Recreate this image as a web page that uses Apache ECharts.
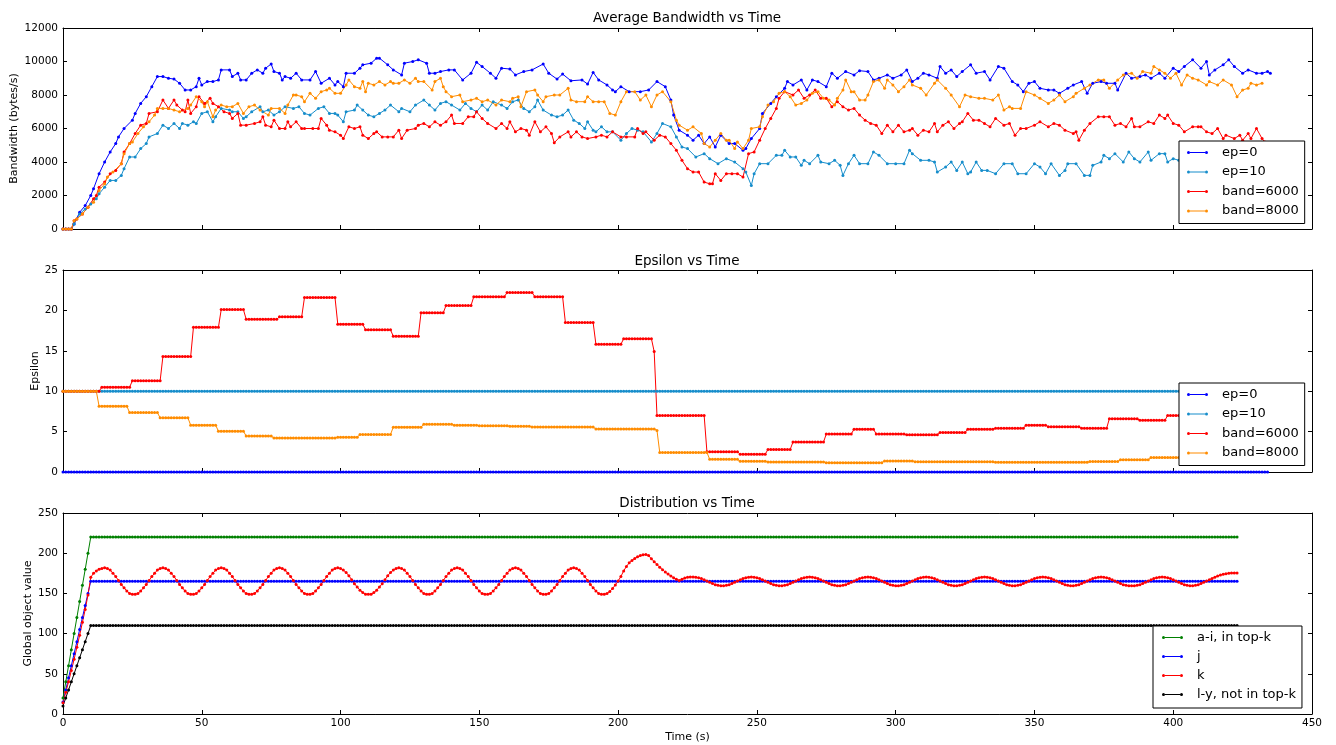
<!DOCTYPE html>
<html>
<head>
<meta charset="utf-8">
<title>Bandwidth / Epsilon / Distribution vs Time</title>
<script src="https://cdn.jsdelivr.net/npm/echarts@6.0.0/dist/echarts.min.js"></script>
<style>
html, body { margin: 0; padding: 0; background: #fff; }
#main { width: 1336px; height: 745px; }
</style>
</head>
<body>
<div id="main"></div>
<script>
// ---- names / colours ----
var bandNames = ['ep=0', 'ep=10', 'band=6000', 'band=8000'];
var distNames = ['a-i, in top-k', 'j', 'k', 'l-y, not in top-k'];
var bandColors = ['#0000ff', '#168dcb', '#ff0000', '#ff8c00'];
var distColors = ['#008000', '#0000ff', '#ff0000', '#000000'];

// ---- Average Bandwidth vs Time : [time (s), bytes/s] ----
var bwEp0 = [[0,0],[1,0],[2,0],[3,0],[4,300],[6,1000],[8,1400],[10,2000],[11,2400],[13,3300],[15,4000],[17,4600],[19,5100],[20,5500],[22,6000],[25,6500],[26,6900],[28,7500],[30,7900],[32,8500],[34,9100],[36,9100],[38,9000],[40,8950],[42,8700],[44,8300],[46,8300],[48,8500],[49,9000],[50,8600],[52,8800],[54,8800],[56,8900],[57,9500],[60,9500],[61,9100],[63,9300],[64,8900],[66,8900],[68,9300],[70,9500],[72,9300],[73,9600],[75,9850],[76,9400],[78,9300],[79,8900],[80,9100],[82,9000],[84,9300],[86,8900],[89,8900],[91,9400],[93,8700],[96,9000],[98,8600],[99,8800],[101,8500],[102,9300],[105,9300],[107,9600],[108,9800],[111,9900],[113,10200],[114,10200],[117,9800],[119,9500],[122,9200],[123,9900],[126,10000],[128,10100],[131,9900],[132,9300],[134,9300],[136,9400],[139,9500],[141,9500],[144,8900],[147,9300],[149,9950],[151,9700],[154,9300],[156,9000],[158,9600],[161,9550],[163,9200],[166,9400],[169,9500],[173,9850],[175,9300],[178,8950],[180,9250],[183,8850],[187,8900],[189,8650],[191,9350],[193,8900],[196,8600],[198,8300],[199,8200],[201,8500],[204,8200],[208,8200],[211,8300],[214,8800],[217,8500],[219,7700],[220,6800],[222,5900],[225,5600],[227,5300],[229,5600],[231,5100],[233,5500],[235,4900],[237,5600],[240,5100],[242,5100],[245,4700],[246,4800],[248,5400],[251,6000],[252,6900],[255,7500],[257,7900],[260,8400],[261,8800],[263,8600],[266,8900],[268,8300],[270,8900],[272,8800],[275,8500],[277,9300],[279,9000],[282,9400],[285,9200],[287,9450],[290,9400],[292,8900],[294,9000],[297,9200],[299,9000],[302,9200],[304,9500],[306,8800],[308,9000],[310,9300],[312,9200],[315,9000],[316,9700],[318,9300],[320,9500],[322,9100],[324,9400],[327,9800],[329,9300],[332,9400],[334,8900],[337,9700],[339,9600],[342,8800],[344,8600],[346,8200],[348,8700],[350,8800],[352,8400],[355,8300],[357,8300],[359,8100],[362,8400],[364,8600],[367,8800],[369,8100],[371,8700],[374,8800],[376,8700],[379,8700],[380,8300],[383,9300],[385,9000],[388,9100],[390,9200],[392,9000],[395,9300],[397,9000],[400,9600],[402,9400],[404,9700],[407,10100],[410,9600],[412,10000],[413,9200],[415,9500],[418,9800],[420,10100],[422,9700],[425,9300],[427,9500],[430,9300],[432,9300],[434,9400],[435,9300]];

var bwEp10 = [[0,0],[1,0],[2,0],[3,0],[4,300],[6,900],[8,1200],[10,1500],[12,1800],[13,2100],[15,2500],[17,2900],[19,2900],[21,3200],[22,3600],[24,4300],[26,4300],[28,4800],[30,5100],[31,5500],[34,5700],[36,6200],[38,6000],[40,6300],[42,6000],[43,6300],[45,6200],[47,6400],[48,6300],[50,6900],[52,7000],[54,6400],[55,6700],[57,7200],[60,7100],[61,7000],[63,7000],[65,6600],[66,6700],[68,7000],[71,7300],[72,7000],[74,7100],[76,6800],[78,7000],[80,7300],[83,7200],[85,7300],[87,6900],[89,6800],[92,7200],[94,7300],[96,6900],[98,6900],[99,6800],[101,6400],[102,7000],[105,7100],[106,7400],[108,7100],[110,6800],[112,6700],[114,6900],[116,7100],[118,7400],[121,7000],[122,7200],[125,7000],[127,7400],[130,7700],[132,7400],[134,7100],[136,7500],[138,7600],[140,7400],[143,7100],[145,7500],[147,7200],[149,7000],[151,7400],[153,7100],[155,7600],[158,7400],[160,7200],[162,7600],[164,7700],[166,7200],[168,7000],[170,7300],[171,7700],[173,7100],[176,6800],[178,6700],[180,6800],[182,7100],[184,6500],[186,6300],[188,6000],[189,6400],[191,5900],[192,5800],[194,6100],[196,5800],[198,5800],[201,5300],[203,5700],[205,6000],[207,5900],[209,5800],[212,5200],[214,5700],[216,6300],[219,6100],[221,5500],[223,4900],[225,4800],[228,4300],[231,4500],[233,4200],[236,3900],[239,4200],[242,4000],[245,3600],[246,3400],[248,2600],[249,3300],[251,3900],[254,3900],[257,4400],[259,4400],[260,4700],[262,4300],[264,4300],[266,3800],[267,4100],[269,3900],[272,4400],[273,4000],[276,3900],[278,4100],[280,3800],[281,3200],[283,3900],[285,4400],[287,3900],[290,3900],[292,4600],[294,4400],[297,3900],[300,3900],[303,3900],[305,4700],[306,4500],[309,4100],[312,4100],[314,4000],[315,3400],[318,3700],[320,4000],[322,3500],[324,4000],[326,3300],[327,3400],[329,4000],[331,3500],[333,3500],[336,3300],[339,3900],[342,3900],[344,3300],[347,3300],[350,3900],[352,3700],[354,3300],[356,3900],[359,3200],[361,3500],[362,3900],[365,3900],[368,3200],[370,3200],[371,3800],[374,4000],[375,4400],[377,4200],[379,4500],[382,4000],[384,4600],[386,4200],[388,4000],[391,4600],[392,4100],[395,4500],[397,4500],[398,4000],[400,4200],[402,4100],[405,4400],[408,4100],[411,4500],[414,4200],[417,4400],[420,4000],[423,4300],[426,4100],[429,4400],[432,4200]];

var bwBand6000 = [[0,0],[1,0],[2,0],[3,0],[4,500],[5,600],[7,900],[9,1300],[11,1800],[12,2000],[13,2500],[15,2800],[17,3300],[19,3500],[21,3900],[22,4600],[24,5100],[26,5700],[28,6200],[30,6300],[31,6900],[34,7000],[36,7700],[38,7200],[40,7700],[41,7400],[43,7100],[44,7000],[45,7700],[46,6900],[48,7300],[49,7900],[51,7500],[53,7800],[54,7500],[56,7300],[58,7000],[60,6900],[61,6600],[63,6900],[64,6200],[66,6200],[69,6300],[71,6400],[72,6700],[73,6200],[75,6100],[76,6500],[78,6000],[80,6000],[81,6400],[82,6100],[84,6400],[86,6000],[87,6000],[90,6000],[92,6000],[93,6600],[95,6200],[96,5900],[98,5800],[100,5600],[101,5400],[103,6100],[105,6000],[107,6100],[108,5600],[110,5400],[112,5700],[113,5800],[115,5500],[117,5500],[119,5500],[121,5900],[122,5400],[124,5900],[127,6000],[128,6200],[130,6300],[132,6100],[134,6400],[136,6200],[138,6400],[140,6800],[141,6300],[144,6300],[146,6700],[148,6700],[149,7000],[151,6600],[153,6300],[156,6000],[158,6300],[160,6000],[161,6400],[163,5800],[165,6000],[167,5900],[168,5600],[170,6400],[172,5800],[174,6100],[176,5700],[177,5150],[179,5500],[182,5800],[183,5500],[185,5800],[187,5500],[189,5400],[192,5500],[194,5600],[196,5500],[198,5800],[201,5500],[203,5500],[206,5500],[207,6000],[209,5700],[210,5800],[213,5300],[215,5600],[217,5500],[219,5100],[221,4700],[223,4100],[225,3600],[227,3400],[229,3400],[231,2800],[233,2700],[234,2700],[235,3300],[237,2900],[239,3300],[241,3300],[243,3300],[245,3100],[247,4500],[249,4600],[251,5300],[253,6000],[255,6600],[257,7200],[258,7800],[260,8200],[263,8000],[265,8300],[267,7800],[269,8000],[271,8300],[273,7800],[275,7800],[277,7300],[279,7600],[281,7300],[283,7100],[285,7200],[287,6800],[289,6500],[291,6300],[293,6200],[295,5700],[297,6200],[299,5800],[301,6200],[303,5800],[305,5900],[306,6000],[308,5600],[310,5900],[312,5800],[314,6300],[315,5800],[317,6200],[319,6400],[321,6000],[323,6300],[324,6400],[326,6900],[328,6500],[330,6500],[332,6300],[334,6100],[336,6600],[339,6200],[341,6300],[343,5600],[345,6000],[347,6000],[350,6200],[352,6400],[355,6100],[357,6300],[359,6200],[361,5900],[364,5700],[365,5800],[366,5300],[368,5900],[370,6300],[373,6700],[375,6700],[377,6700],[379,6200],[381,6300],[383,6100],[385,6600],[386,6100],[388,6100],[391,6400],[393,6300],[395,6800],[397,6600],[398,6800],[400,6300],[402,6200],[404,5800],[407,6100],[409,6100],[410,6100],[412,5800],[414,5700],[416,6000],[418,5400],[419,5600],[422,5400],[424,5600],[425,5300],[427,5700],[428,5400],[430,6000],[432,5400],[433,5200]];

var bwBand8000 = [[0,0],[1,0],[2,0],[3,0],[4,500],[5,600],[7,900],[9,1300],[11,1600],[13,2300],[15,2700],[16,3100],[18,3400],[21,3900],[22,4500],[24,5100],[25,5200],[27,5700],[29,6100],[31,6400],[33,6800],[34,7200],[36,7200],[38,7200],[40,7100],[42,7000],[45,7200],[46,7400],[48,7900],[50,7600],[51,7300],[52,7600],[54,6700],[55,7100],[57,7400],[59,7300],[61,7300],[63,7500],[65,6900],[67,7300],[69,7400],[71,7100],[74,6800],[75,7200],[78,7200],[80,6900],[81,7400],[83,8000],[84,8000],[86,7900],[87,7600],[89,8100],[91,7800],[93,8200],[95,8300],[96,8400],[98,8100],[100,8100],[102,8600],[103,8900],[105,8500],[107,8400],[108,8800],[109,8200],[110,8700],[112,8600],[114,8800],[116,8600],[118,8800],[119,8700],[121,8700],[123,8900],[125,8700],[127,9000],[128,8800],[130,8800],[133,8300],[134,8800],[136,9000],[137,8500],[138,8200],[140,7900],[143,8000],[144,7600],[147,7700],[149,7800],[151,7600],[153,7700],[156,7400],[158,7700],[161,7600],[162,7800],[164,7900],[165,7300],[167,8200],[170,8300],[171,8000],[173,7600],[174,7900],[177,8000],[179,8000],[182,8400],[183,7700],[185,7600],[188,7600],[189,7900],[191,7600],[193,7600],[195,7600],[197,6900],[199,6800],[201,7600],[203,8200],[206,8200],[208,7700],[210,8000],[212,7300],[214,8000],[216,8200],[219,7600],[221,6500],[222,6200],[225,5900],[227,6100],[230,5700],[231,5100],[233,4900],[235,5300],[237,5700],[239,5300],[240,5300],[242,4800],[243,5200],[245,4800],[247,5300],[248,6000],[251,6100],[252,6700],[254,7400],[256,7600],[258,8100],[260,8200],[262,7900],[264,7400],[266,7500],[268,7700],[270,8100],[272,8200],[274,7800],[276,7700],[278,7400],[279,7800],[281,8300],[282,8900],[284,8200],[285,8200],[287,7700],[289,7700],[290,8000],[292,8800],[294,8900],[296,8400],[297,8900],[299,8600],[301,8200],[303,8500],[305,8900],[306,8600],[309,8400],[311,8000],[314,8700],[315,8900],[318,8400],[320,8000],[323,7300],[325,8000],[327,7900],[330,7800],[332,7800],[335,7700],[337,8000],[339,7100],[341,7300],[342,7200],[345,7200],[347,8200],[350,8000],[352,7800],[355,7500],[357,7700],[359,8000],[361,7600],[364,7900],[365,8100],[368,8400],[370,8600],[373,8900],[375,8900],[377,8400],[380,8900],[382,9200],[385,9300],[387,9000],[389,9400],[392,9300],[393,9700],[395,9500],[397,9300],[399,9000],[401,9300],[403,8600],[405,9200],[407,9000],[409,8900],[412,8600],[413,8800],[416,8600],[418,8900],[421,8600],[423,7900],[425,8300],[427,8400],[428,8700],[430,8600],[432,8700]];

// ---- Epsilon vs Time : steps [from second, epsilon], sampled each second up to end ----
var epsEp0Steps = [[0, 0]];
var epsEp10Steps = [[0, 10]];
var epsBand6000Steps = [[0,10],[14,10.5],[25,11.3],[36,14.3],[47,17.9],[57,20.1],[66,18.9],[78,19.2],[87,21.6],[99,18.3],[109,17.6],[119,16.8],[129,19.7],[138,20.6],[148,21.7],[160,22.2],[170,21.7],[181,18.5],[192,15.8],[202,16.5],[213,14.9],[214,7.0],[232,2.5],[244,2.2],[254,2.8],[263,3.7],[275,4.7],[285,5.3],[293,4.7],[304,4.6],[316,4.9],[326,5.3],[336,5.4],[347,5.8],[355,5.6],[367,5.4],[377,6.6],[388,6.4],[398,7.0]];
var epsBand8000Steps = [[0,10],[13,8.15],[24,7.35],[35,6.7],[46,5.8],[56,5.05],[66,4.45],[76,4.2],[99,4.3],[107,4.65],[119,5.55],[130,5.9],[141,5.8],[150,5.72],[161,5.65],[169,5.57],[192,5.32],[214,5.15],[215,2.42],[233,1.57],[244,1.32],[254,1.24],[275,1.16],[296,1.36],[307,1.28],[336,1.2],[370,1.3],[381,1.52],[392,1.78]];
var epsEnds = [434, 432, 432, 431];

// ---- Distribution vs Time : ramp each second from 0, then hold value until end ----
var aiRamp = [20,40,60,80,100,120,140,160,180,200,220];
var jRamp = [15,30,45,60,75,90,105,120,135,150,165];
var lyRamp = [10,20,30,40,50,60,70,80,90,100,110];
var holdValues = [220, 165, 110];
var distEnd = 423;
// k, one value per second, t = 0..423
var kValues = [14,27,40,54,68,83,98,114,130,148,170,
  175,178,180,181,
  182,181,179,175,171,166,161,157,153,150,149,149,150,153,157,161,166,171,175,179,181,
  182,181,179,175,171,166,161,157,153,150,149,149,150,153,157,161,166,171,175,179,181,
  182,181,179,175,171,166,161,157,153,150,149,149,150,153,157,161,166,171,175,179,181,
  182,181,179,175,171,166,161,157,153,150,149,149,150,153,157,161,166,171,175,179,181,
  182,181,179,176,172,167,162,158,154,151,149,149,149,151,154,158,162,167,172,176,179,181,
  182,181,179,175,171,166,161,157,153,150,149,149,150,153,157,161,166,171,175,179,181,
  182,181,179,175,171,166,161,157,153,150,149,149,150,153,157,161,166,171,175,179,181,
  182,181,179,175,171,166,161,157,153,150,149,149,150,153,157,161,166,171,175,179,181,
  182,181,179,175,171,166,161,157,153,150,149,149,
  150,152.5,156,160.5,165.5,171,178,183.5,188,191,193.5,195.5,197,198,198.5,197,193,189.5,186,182.5,179.5,176.5,174,171.5,169.5,167.5,166,167.5,169,170,170.5,
  170.5,170.2,169.5,168.4,167,165.4,163.8,162.2,160.9,160,159.6,159.6,160,160.9,162.2,163.8,165.4,167,168.4,169.5,170.2,
  170.5,170.2,169.5,168.4,167,165.4,163.8,162.2,160.9,160,159.6,159.6,160,160.9,162.2,163.8,165.4,167,168.4,169.5,170.2,
  170.5,170.2,169.5,168.4,167,165.4,163.8,162.2,160.9,160,159.6,159.6,160,160.9,162.2,163.8,165.4,167,168.4,169.5,170.2,
  170.5,170.2,169.5,168.4,167,165.4,163.8,162.2,160.9,160,159.6,159.6,160,160.9,162.2,163.8,165.4,167,168.4,169.5,170.2,
  170.5,170.2,169.5,168.4,167,165.4,163.8,162.2,160.9,160,159.6,159.6,160,160.9,162.2,163.8,165.4,167,168.4,169.5,170.2,
  170.5,170.2,169.5,168.4,167,165.4,163.8,162.2,160.9,160,159.6,159.6,160,160.9,162.2,163.8,165.4,167,168.4,169.5,170.2,
  170.5,170.2,169.5,168.4,167,165.4,163.8,162.2,160.9,160,159.6,159.6,160,160.9,162.2,163.8,165.4,167,168.4,169.5,170.2,
  170.5,170.2,169.5,168.4,167,165.4,163.8,162.2,160.9,160,159.6,159.6,159.6,160,160.9,162.2,163.8,165.4,167,168.4,169.5,170.2,
  170.5,170.2,169.5,168.4,167,165.4,163.8,162.2,160.9,160,159.6,159.6,
  160,160.9,162.2,163.8,165.4,167,168.6,170.2,171.6,172.8,173.8,174.5,175,175.3,175.5,175.5];

// ---- helpers ----
function stepPoints(steps, end) {
    var pts = [], j = 0;
    for (var t = 0; t <= end; t++) {
        while (j + 1 < steps.length && steps[j + 1][0] <= t) j++;
        pts.push([t, steps[j][1]]);
    }
    return pts;
}
function rampHold(ramp, hold, end) {
    var pts = ramp.map(function (v, i) { return [i, v]; });
    for (var t = ramp.length; t <= end; t++) pts.push([t, hold]);
    return pts;
}

var FONT = 'DejaVu Sans';
var LEGEND_ICON = 'path://M0,1.5a1.5,1.5 0 1,0 3,0a1.5,1.5 0 1,0 -3,0zM18,1.5a1.5,1.5 0 1,0 3,0a1.5,1.5 0 1,0 -3,0zM3,1h15v1h-15z';

var grids = [
    { left: 63, top: 28, width: 1249, height: 201 },
    { left: 63, top: 270, width: 1249, height: 202 },
    { left: 63, top: 513, width: 1249, height: 201 }
];
var yRanges = [[0, 12000, 2000], [0, 25, 5], [0, 250, 50]];
var yNames = ['Bandwidth (bytes/s)', 'Epsilon', 'Global object value'];
var yNameGaps = [43, 22, 29];

var tickStyle = { show: true, inside: true, length: 4, lineStyle: { color: '#000', width: 1 } };
var lineAxis = { show: true, onZero: false, lineStyle: { color: '#000', width: 1 } };
var labelStyle = { color: '#000', fontFamily: FONT, fontSize: 10.5 };

var xAxes = [], yAxes = [];
grids.forEach(function (g, i) {
    var last = i === 2;
    xAxes.push({
        type: 'value', gridIndex: i, position: 'bottom', min: 0, max: 450, interval: 50,
        splitLine: { show: false }, axisLine: lineAxis, axisTick: tickStyle,
        axisLabel: Object.assign({ show: last, margin: 4 }, labelStyle),
        name: last ? 'Time (s)' : '', nameLocation: 'middle', nameGap: 18, nameMoveOverlap: false,
        nameTextStyle: { color: '#000', fontFamily: FONT, fontSize: 11 }
    });
    xAxes.push({
        type: 'value', gridIndex: i, position: 'top', min: 0, max: 450, interval: 50,
        splitLine: { show: false }, axisLine: lineAxis, axisTick: tickStyle,
        axisLabel: { show: false }
    });
    var r = yRanges[i];
    yAxes.push({
        type: 'value', gridIndex: i, position: 'left', min: r[0], max: r[1], interval: r[2],
        splitLine: { show: false }, axisLine: lineAxis, axisTick: tickStyle,
        axisLabel: Object.assign({ margin: 5, formatter: function (v) { return String(v); } }, labelStyle),
        name: yNames[i], nameLocation: 'middle', nameRotate: 90, nameGap: yNameGaps[i], nameMoveOverlap: false,
        nameTextStyle: { color: '#000', fontFamily: FONT, fontSize: 11 }
    });
    yAxes.push({
        type: 'value', gridIndex: i, position: 'right', min: r[0], max: r[1], interval: r[2],
        splitLine: { show: false }, axisLine: lineAxis, axisTick: tickStyle,
        axisLabel: { show: false }
    });
});

function lineSeries(name, color, data, panel) {
    return {
        type: 'line', name: name, data: data,
        xAxisIndex: panel * 2, yAxisIndex: panel * 2,
        symbol: 'circle', symbolSize: 3, showSymbol: true,
        lineStyle: { width: 1, color: color }, itemStyle: { color: color },
        emphasis: { disabled: true }, animation: false
    };
}

var series = [];
[bwEp0, bwEp10, bwBand6000, bwBand8000].forEach(function (d, i) {
    series.push(lineSeries(bandNames[i], bandColors[i], d, 0));
});
[epsEp0Steps, epsEp10Steps, epsBand6000Steps, epsBand8000Steps].forEach(function (s, i) {
    series.push(lineSeries(bandNames[i], bandColors[i], stepPoints(s, epsEnds[i]), 1));
});
var distData = [
    rampHold(aiRamp, holdValues[0], distEnd),
    rampHold(jRamp, holdValues[1], distEnd),
    kValues.map(function (v, i) { return [i, v]; }),
    rampHold(lyRamp, holdValues[2], distEnd)
];
distData.forEach(function (d, i) {
    series.push(lineSeries(distNames[i], distColors[i], d, 2));
});

function legendAt(left, top, names, pad, gap, textPad) {
    return {
        orient: 'vertical', left: left, top: top, data: names,
        padding: pad, itemGap: gap, itemWidth: 21, itemHeight: 3,
        icon: LEGEND_ICON, selectedMode: false,
        backgroundColor: '#fff', borderColor: '#000', borderWidth: 1, borderRadius: 0,
        textStyle: { color: '#000', fontFamily: FONT, fontSize: 13, padding: [0, 0, 0, textPad] },
        z: 10
    };
}

var titleStyle = { color: '#000', fontFamily: FONT, fontSize: 13.5, fontWeight: 'normal' };

var option = {
    backgroundColor: '#fff',
    animation: false,
    textStyle: { fontFamily: FONT },
    title: [
        { text: 'Average Bandwidth vs Time', left: 687, top: 11, textAlign: 'center', padding: 0, textStyle: titleStyle },
        { text: 'Epsilon vs Time', left: 687, top: 254, textAlign: 'center', padding: 0, textStyle: titleStyle },
        { text: 'Distribution vs Time', left: 687, top: 496, textAlign: 'center', padding: 0, textStyle: titleStyle }
    ],
    legend: [
        legendAt(1179, 141, bandNames, [5, 6, 6, 8], 6.5, 9),
        legendAt(1179, 383, bandNames, [5, 6, 6, 8], 6.5, 9),
        legendAt(1153, 626, distNames, [5, 6, 7, 9], 6, 9)
    ],
    grid: grids.map(function (g) { return Object.assign({ outerBoundsMode: 'none' }, g); }),
    xAxis: xAxes,
    yAxis: yAxes,
    series: series
};

var myChart = echarts.init(document.getElementById('main'), null, { renderer: 'canvas' });
myChart.setOption(option);
</script>
</body>
</html>
